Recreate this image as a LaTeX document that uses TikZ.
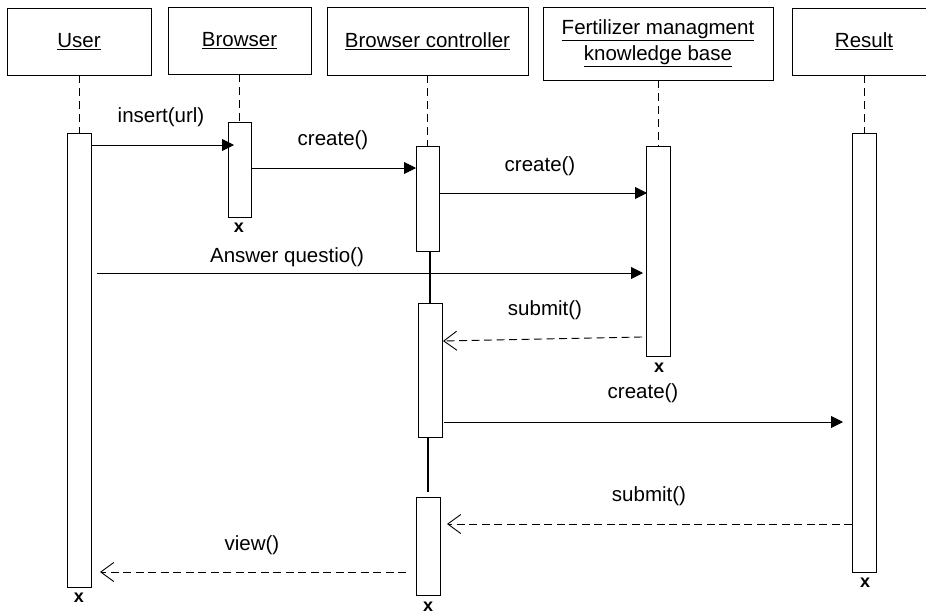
\documentclass[tikz,border=0pt]{standalone}
\usepackage{fontspec}
\setmainfont{Liberation Sans}
\usetikzlibrary{arrows.meta}
\begin{document}
\begin{tikzpicture}[x=1pt,y=-1pt,
  hdr/.style={draw, line width=0.9pt, inner sep=0pt, font=\fontsize{20.5}{25}\selectfont, align=center},
  act/.style={draw, fill=white, line width=0.9pt, inner sep=0pt, minimum width=24pt},
  life/.style={dashed, dash pattern=on 8pt off 5pt, line width=0.9pt},
  bar/.style={line width=1.6pt},
  msg/.style={line width=0.9pt, -{Triangle[length=12pt,width=12pt]}},
  ret/.style={line width=0.9pt, dash pattern=on 8pt off 4.5pt, -{Straight Barb[length=13pt,width=19pt,line width=0.9pt]}},
  lbl/.style={inner sep=0pt, font=\fontsize{20.5}{25}\selectfont},
  xmark/.style={inner sep=0pt, font=\fontsize{18}{20}\selectfont\bfseries}]
\useasboundingbox[clip] (0,0) rectangle (926,614);
\fill[white] (0,0) rectangle (926,614);
% headers
\node[hdr, minimum width=144pt, minimum height=67pt] (hu) at (79,41.5) {\underline{User}};
\node[hdr, minimum width=143pt, minimum height=67pt] (hb) at (239.5,40.5) {\underline{Browser}};
\node[hdr, minimum width=201pt, minimum height=68pt] (hc) at (427.5,41) {\underline{Browser controller}};
\node[hdr, minimum width=230pt, minimum height=73pt] (hf) at (658,43.5) {\underline{Fertilizer managment}\\[1pt]\underline{knowledge base}};
\node[hdr, minimum width=144pt, minimum height=67pt] (hr) at (864,41.5) {\underline{Result}};
% activations
\node[act, minimum height=454pt] (ua) at (79,360) {};
\node[act, minimum width=23pt, minimum height=95pt] (ba) at (239.5,169.5) {};
\node[act, minimum width=23pt, minimum height=105pt] (c1) at (427.5,198.5) {};
\node[act, minimum height=134pt] (c2) at (430,370) {};
\node[act, minimum height=98pt] (c3) at (428,546) {};
\node[act, minimum height=210pt] (fa) at (658,251) {};
\node[act, minimum height=439pt] (ra) at (864,352.5) {};
% lifelines
\draw[life] (hu.south) -- (ua.north);
\draw[life] (hb.south) -- (ba.north);
\draw[life] (hc.south) -- (c1.north);
\draw[life] (hf.south) -- (fa.north);
\draw[life] (hr.south -| ra.north) -- (ra.north);
\coordinate (g1) at (430,251); \coordinate (g2) at (428,437); \coordinate (g2e) at (428,492);
\draw[bar] (g1) -- (c2.north -| g1);
\draw[bar] (g2) -- (g2e);
% message end points
\coordinate (m1a) at (91,145);  \coordinate (m1b) at (234,145);
\coordinate (m2a) at (251,168); \coordinate (m2b) at (416,168);
\coordinate (m3a) at (439,193); \coordinate (m3b) at (647,193);
\coordinate (m4a) at (97,273);  \coordinate (m4b) at (643,273);
\coordinate (m5a) at (642,337); \coordinate (m5b) at (443,341);
\coordinate (m6a) at (444,422); \coordinate (m6b) at (843,422);
\coordinate (m7a) at (852,524); \coordinate (m7b) at (447,524);
\coordinate (m8a) at (406,572); \coordinate (m8b) at (100,572);
\draw[msg] (m1a) -- (m1b);
\draw[msg] (m2a) -- (m2b);
\draw[msg] (m3a) -- (m3b);
\draw[msg] (m4a) -- (m4b);
\draw[ret] (m5a) -- (m5b);
\draw[msg] (m6a) -- (m6b);
\draw[ret] (m7a) -- (m7b);
\draw[ret] (m8a) -- (m8b);
% labels
\node[lbl] (l1) at (161,117) {insert(url)};
\node[lbl] (l2) at (333,140) {create()};
\node[lbl] (l3) at (540,166) {create()};
\node[lbl] (l4) at (287,257) {Answer questio()};
\node[lbl] (l5) at (545,310) {submit()};
\node[lbl] (l6) at (643,393) {create()};
\node[lbl] (l7) at (649,496) {submit()};
\node[lbl] (l8) at (252,545) {view()};
% destruction marks
\node[xmark] (x1) at (239,228) {x};
\node[xmark] (x2) at (659,368) {x};
\node[xmark] (x3) at (865,583) {x};
\node[xmark] (x4) at (79,598) {x};
\node[xmark] (x5) at (428,607) {x};
\end{tikzpicture}
\end{document}
